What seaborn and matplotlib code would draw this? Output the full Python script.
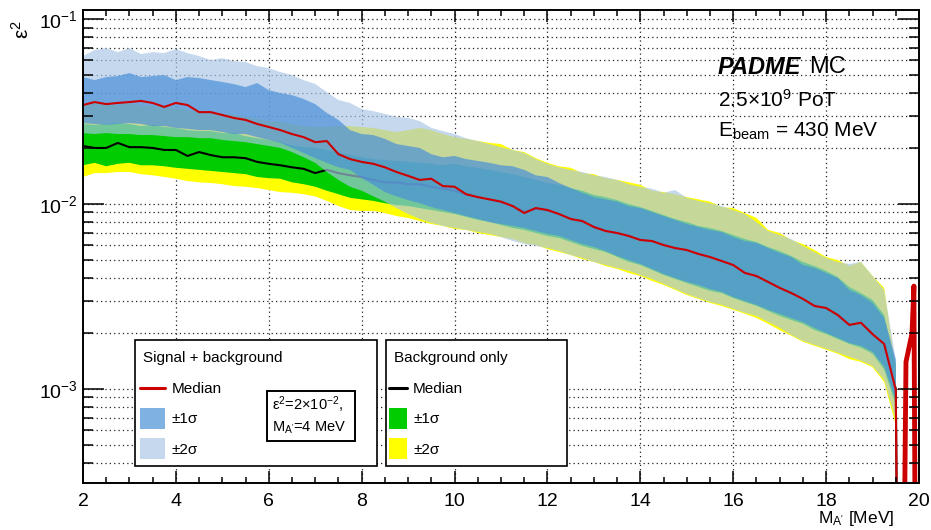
import numpy as np
import pandas as pd
import matplotlib
matplotlib.use("Agg")
import matplotlib.pyplot as plt
import matplotlib.transforms as mtransforms
from matplotlib.patches import Rectangle
from matplotlib.lines import Line2D
from matplotlib.ticker import LogLocator, MultipleLocator, NullFormatter, LogFormatterMathtext
import seaborn as sns

# dark photon mass [MeV]
mass = [2.0, 2.25, 2.5, 2.75, 3.0, 3.25, 3.5, 3.75,
        4.0, 4.25, 4.5, 4.75, 5.0, 5.25, 5.5, 5.75,
        6.0, 6.25, 6.5, 6.75, 7.0, 7.25, 7.5, 7.75,
        8.0, 8.25, 8.5, 8.75, 9.0, 9.25, 9.5, 9.75,
        10.0, 10.25, 10.5, 10.75, 11.0, 11.25, 11.5, 11.75,
        12.0, 12.25, 12.5, 12.75, 13.0, 13.25, 13.5, 13.75,
        14.0, 14.25, 14.5, 14.75, 15.0, 15.25, 15.5, 15.75,
        16.0, 16.25, 16.5, 16.75, 17.0, 17.25, 17.5, 17.75,
        18.0, 18.25, 18.5, 18.75, 19.0, 19.25, 19.5, 19.6]

# signal + background (eps^2 = 2e-2, M_A' = 4 MeV)
sig_median = [0.0343, 0.0356, 0.0347, 0.0352, 0.0356, 0.0361, 0.0352, 0.0335,
              0.0352, 0.0343, 0.0314, 0.0314, 0.0303, 0.0292, 0.0285, 0.0271,
              0.0261, 0.0251, 0.0239, 0.0230, 0.0216, 0.0219, 0.0186, 0.0175,
              0.0169, 0.0165, 0.0158, 0.0149, 0.0142, 0.0135, 0.0137, 0.0125,
              0.0124, 0.0113, 0.0109, 0.0106, 0.0103, 0.00975, 0.00894, 0.00951,
              0.00928, 0.00883, 0.00830, 0.00809, 0.00751, 0.00715, 0.00697, 0.00672,
              0.00639, 0.00631, 0.00600, 0.00578, 0.00564, 0.00537, 0.00517, 0.00492,
              0.00468, 0.00424, 0.00408, 0.00379, 0.00352, 0.00330, 0.00307, 0.00281,
              0.00274, 0.00251, 0.00222, 0.00228, 0.00198, 0.00175, 0.000988, 1e-6]
sig_1s_hi = [0.0486, 0.0468, 0.0486, 0.0492, 0.0511, 0.0486, 0.0492, 0.0498,
             0.0468, 0.0486, 0.0480, 0.0468, 0.0457, 0.0445, 0.0429, 0.0451,
             0.0413, 0.0398, 0.0388, 0.0370, 0.0347, 0.0311, 0.0285, 0.0251,
             0.0239, 0.0236, 0.0225, 0.0211, 0.0206, 0.0201, 0.0186, 0.0179,
             0.0182, 0.0175, 0.0171, 0.0167, 0.0162, 0.0160, 0.0153, 0.0143,
             0.0140, 0.0130, 0.0122, 0.0115, 0.0109, 0.0106, 0.0103, 0.00975,
             0.00951, 0.00905, 0.00861, 0.00820, 0.00780, 0.00751, 0.00724, 0.00706,
             0.00663, 0.00631, 0.00616, 0.00578, 0.00544, 0.00517, 0.00468, 0.00451,
             0.00424, 0.00398, 0.00343, 0.00322, 0.00292, 0.00242, 0.00144, 1e-6]
sig_1s_lo = [0.0274, 0.0271, 0.0268, 0.0271, 0.0274, 0.0271, 0.0264, 0.0264,
             0.0258, 0.0255, 0.0251, 0.0251, 0.0245, 0.0239, 0.0239, 0.0230,
             0.0222, 0.0214, 0.0201, 0.0189, 0.0177, 0.0167, 0.0158, 0.0153,
             0.0138, 0.0127, 0.0116, 0.0110, 0.0105, 0.0101, 0.00963, 0.00928,
             0.00894, 0.00861, 0.00830, 0.00799, 0.00780, 0.00761, 0.00742, 0.00715,
             0.00689, 0.00672, 0.00639, 0.00608, 0.00586, 0.00557, 0.00524, 0.00498,
             0.00474, 0.00446, 0.00419, 0.00398, 0.00379, 0.00365, 0.00347, 0.00335,
             0.00314, 0.00299, 0.00285, 0.00268, 0.00255, 0.00242, 0.00230, 0.00214,
             0.00201, 0.00189, 0.00177, 0.00171, 0.00159, 0.00132, 0.00087, 1e-6]
sig_2s_hi = [0.0631, 0.0680, 0.0697, 0.0663, 0.0697, 0.0647, 0.0663, 0.0655,
             0.0688, 0.0655, 0.0631, 0.0600, 0.0615, 0.0593, 0.0586, 0.0557,
             0.0543, 0.0517, 0.0498, 0.0468, 0.0446, 0.0403, 0.0365, 0.0352,
             0.0326, 0.0318, 0.0307, 0.0296, 0.0292, 0.0281, 0.0258, 0.0248,
             0.0239, 0.0227, 0.0219, 0.0211, 0.0203, 0.0196, 0.0189, 0.0175,
             0.0165, 0.0158, 0.0153, 0.0149, 0.0143, 0.0140, 0.0135, 0.0128,
             0.0124, 0.0121, 0.0115, 0.0119, 0.0108, 0.0104, 0.0101, 0.00975,
             0.00928, 0.00883, 0.00799, 0.00715, 0.00680, 0.00647, 0.00593, 0.00550,
             0.00511, 0.00486, 0.00474, 0.00486, 0.00408, 0.00343, 0.00144, 1e-6]
sig_2s_lo = [0.0242, 0.0239, 0.0242, 0.0239, 0.0239, 0.0236, 0.0236, 0.0233,
             0.0230, 0.0230, 0.0227, 0.0227, 0.0222, 0.0219, 0.0216, 0.0211,
             0.0206, 0.0201, 0.0191, 0.0179, 0.0167, 0.0149, 0.0135, 0.0124,
             0.0118, 0.0110, 0.0103, 0.00951, 0.00883, 0.00830, 0.00790, 0.00761,
             0.00742, 0.00724, 0.00706, 0.00689, 0.00663, 0.00631, 0.00608, 0.00593,
             0.00578, 0.00557, 0.00530, 0.00511, 0.00486, 0.00468, 0.00451, 0.00435,
             0.00413, 0.00393, 0.00370, 0.00347, 0.00326, 0.00310, 0.00295, 0.00285,
             0.00271, 0.00258, 0.00248, 0.00230, 0.00214, 0.00196, 0.00182, 0.00173,
             0.00165, 0.00157, 0.00149, 0.00142, 0.00133, 0.00112, 0.00068, 1e-6]

# background only
bkg_median = [0.0206, 0.0201, 0.0201, 0.0214, 0.0203, 0.0203, 0.0201, 0.0196,
              0.0196, 0.0182, 0.0191, 0.0184, 0.0179, 0.0179, 0.0177, 0.0169,
              0.0165, 0.0162, 0.0158, 0.0155, 0.0147, 0.0153, 0.0147, 0.0143,
              0.0140, 0.0135, 0.0131, 0.0131, 0.0128, 0.0128, 0.0124, 0.0121,
              0.0118, 0.0112, 0.0109, 0.0106, 0.0102, 0.00978, 0.00910, 0.00940,
              0.00921, 0.00880, 0.00835, 0.00805, 0.00755, 0.00718, 0.00695, 0.00670,
              0.00642, 0.00628, 0.00602, 0.00575, 0.00562, 0.00539, 0.00515, 0.00494,
              0.00466, 0.00426, 0.00406, 0.00381, 0.00350, 0.00332, 0.00305, 0.00283,
              0.00272, 0.00253, 0.00220, 0.00229, 0.00196, 0.00176, 0.00100, 1e-6]
bkg_1s_hi = [0.0271, 0.0268, 0.0271, 0.0274, 0.0271, 0.0264, 0.0268, 0.0261,
             0.0258, 0.0251, 0.0248, 0.0248, 0.0242, 0.0242, 0.0233, 0.0227,
             0.0222, 0.0216, 0.0208, 0.0203, 0.0201, 0.0196, 0.0191, 0.0184,
             0.0179, 0.0175, 0.0173, 0.0171, 0.0169, 0.0167, 0.0165, 0.0162,
             0.0165, 0.0160, 0.0157, 0.0153, 0.0149, 0.0145, 0.0140, 0.0135,
             0.0130, 0.0127, 0.0122, 0.0118, 0.0112, 0.0109, 0.0105, 0.0100,
             0.00963, 0.00917, 0.00872, 0.00830, 0.00799, 0.00761, 0.00742, 0.00715,
             0.00680, 0.00647, 0.00623, 0.00586, 0.00557, 0.00524, 0.00486, 0.00462,
             0.00435, 0.00403, 0.00356, 0.00330, 0.00303, 0.00251, 0.00135, 1e-6]
bkg_1s_lo = [0.0162, 0.0167, 0.0160, 0.0165, 0.0167, 0.0162, 0.0162, 0.0160,
             0.0157, 0.0155, 0.0153, 0.0151, 0.0149, 0.0147, 0.0145, 0.0140,
             0.0138, 0.0137, 0.0131, 0.0128, 0.0124, 0.0118, 0.0113, 0.0108,
             0.0106, 0.0104, 0.0101, 0.00988, 0.00975, 0.00951, 0.00928, 0.00905,
             0.00883, 0.00851, 0.00820, 0.00799, 0.00770, 0.00742, 0.00724, 0.00697,
             0.00672, 0.00655, 0.00623, 0.00593, 0.00571, 0.00550, 0.00517, 0.00486,
             0.00468, 0.00440, 0.00413, 0.00393, 0.00374, 0.00356, 0.00339, 0.00330,
             0.00310, 0.00295, 0.00281, 0.00264, 0.00248, 0.00236, 0.00225, 0.00208,
             0.00198, 0.00186, 0.00175, 0.00167, 0.00155, 0.00127, 0.00082, 1e-6]
bkg_2s_hi = [0.0347, 0.0356, 0.0347, 0.0343, 0.0352, 0.0343, 0.0339, 0.0335,
             0.0330, 0.0322, 0.0318, 0.0314, 0.0307, 0.0303, 0.0296, 0.0288,
             0.0281, 0.0278, 0.0271, 0.0264, 0.0261, 0.0261, 0.0264, 0.0264,
             0.0261, 0.0258, 0.0251, 0.0245, 0.0251, 0.0258, 0.0251, 0.0239,
             0.0230, 0.0225, 0.0219, 0.0214, 0.0211, 0.0196, 0.0191, 0.0177,
             0.0167, 0.0160, 0.0157, 0.0147, 0.0145, 0.0138, 0.0135, 0.0131,
             0.0127, 0.0118, 0.0116, 0.0113, 0.0109, 0.0106, 0.0103, 0.00963,
             0.00951, 0.00894, 0.00842, 0.00724, 0.00697, 0.00639, 0.00608, 0.00564,
             0.00517, 0.00498, 0.00462, 0.00486, 0.00408, 0.00352, 0.00127, 1e-6]
bkg_2s_lo = [0.0140, 0.0147, 0.0147, 0.0149, 0.0149, 0.0145, 0.0143, 0.0140,
             0.0137, 0.0133, 0.0131, 0.0130, 0.0128, 0.0125, 0.0124, 0.0122,
             0.0119, 0.0116, 0.0115, 0.0113, 0.0110, 0.0104, 0.00975, 0.00928,
             0.00917, 0.00917, 0.00894, 0.00861, 0.00840, 0.00809, 0.00780, 0.00761,
             0.00733, 0.00724, 0.00697, 0.00680, 0.00663, 0.00647, 0.00616, 0.00600,
             0.00571, 0.00550, 0.00530, 0.00504, 0.00486, 0.00462, 0.00446, 0.00424,
             0.00408, 0.00384, 0.00365, 0.00343, 0.00322, 0.00307, 0.00292, 0.00281,
             0.00268, 0.00255, 0.00242, 0.00225, 0.00208, 0.00194, 0.00180, 0.00171,
             0.00163, 0.00155, 0.00145, 0.00140, 0.00131, 0.00109, 0.00064, 1e-6]

# spike of the signal median at the end of the range
spike_mass = [19.6, 19.72, 19.85, 19.89, 19.96]
spike_median = [1e-6, 0.00140, 0.00200, 0.00360, 1e-6]

df = pd.DataFrame({"mass": mass, "sig_median": sig_median, "bkg_median": bkg_median})

W, H = 931, 530
YELLOW = "#ffff00"
GREEN = "#00cc00"
LIGHT = (169 / 255, 198 / 255, 230 / 255)
BLUE = (74 / 255, 144 / 255, 216 / 255)
RED = "#cc0000"

sns.set_theme(style="ticks")
plt.rcParams["font.family"] = ["Liberation Sans", "DejaVu Sans"]
plt.rcParams["mathtext.fontset"] = "custom"
plt.rcParams["mathtext.rm"] = "Liberation Sans"
plt.rcParams["mathtext.it"] = "Liberation Sans:italic"
plt.rcParams["mathtext.bf"] = "Liberation Sans:bold"

fig = plt.figure(figsize=(W / 100, H / 100), dpi=100)
ax = fig.add_axes([83 / W, 1 - 483 / H, (919 - 83) / W, (483 - 10) / H])
pix = mtransforms.Affine2D().scale(1 / W, -1 / H).translate(0, 1) + fig.transFigure

# bands
ax.fill_between(mass, bkg_2s_lo, bkg_2s_hi, color=YELLOW, lw=0, zorder=1)
ax.fill_between(mass, bkg_1s_lo, bkg_1s_hi, color=GREEN, lw=0, zorder=2)
sns.lineplot(data=df, x="mass", y="bkg_median", color="black", lw=1.5, ax=ax, zorder=3)
ax.fill_between(mass, sig_2s_lo, sig_2s_hi, color=LIGHT, alpha=0.67, lw=0, zorder=4)
ax.fill_between(mass, sig_1s_lo, sig_1s_hi, color=BLUE, alpha=0.7, lw=0, zorder=5)
sns.lineplot(data=df, x="mass", y="sig_median", color=RED, lw=1.5, ax=ax, zorder=6)
sns.lineplot(x=spike_mass, y=spike_median, color=RED, lw=3.5, ax=ax, zorder=6, sort=False)

ax.set_yscale("log")
ax.set_xlim(2, 20)
ax.set_ylim(3.1e-4, 0.112)
ax.set_xlabel("")
ax.set_ylabel("")

# ticks
ax.xaxis.set_major_locator(MultipleLocator(2))
ax.xaxis.set_minor_locator(MultipleLocator(0.5))
ax.yaxis.set_major_locator(LogLocator(base=10))
ax.yaxis.set_minor_locator(LogLocator(base=10, subs=[2, 3, 4, 5, 6, 7, 8, 9]))
ax.yaxis.set_major_formatter(LogFormatterMathtext())
ax.yaxis.set_minor_formatter(NullFormatter())
ax.tick_params(axis="both", which="both", direction="in", top=True, right=True,
               color="black", width=1.1, labelsize=14, labelcolor="black")
ax.tick_params(axis="x", which="major", length=8.5, pad=7)
ax.tick_params(axis="x", which="minor", length=4.3)
ax.tick_params(axis="y", which="major", length=15, pad=4)
ax.tick_params(axis="y", which="minor", length=7.5)
ax.xaxis.set_zorder(10)
ax.yaxis.set_zorder(10)
for sp in ax.spines.values():
    sp.set_linewidth(1.4)
    sp.set_color("black")
    sp.set_zorder(10)

# dotted grid below the bands
grid_kw = dict(color="#222222", ls=(0, (1, 2.5)), lw=0.9, zorder=0.5)
ylo, yhi = ax.get_ylim()
for xv in ax.xaxis.get_majorticklocs():
    if 2 < xv < 20:
        ax.axvline(xv, **grid_kw)
for yv in list(ax.yaxis.get_majorticklocs()) + list(ax.yaxis.get_minorticklocs()):
    if ylo < yv < yhi:
        ax.axhline(yv, **grid_kw)


def ptext(x, y, s, **kw):
    kw.setdefault("va", "center")
    kw.setdefault("color", "black")
    ax.text(x, y, s, transform=pix, zorder=12, clip_on=False, **kw)


def pbox(x, y, w, h, fc="white", ec="black", lw=1.2, alpha=1.0):
    ax.add_patch(Rectangle((x, y), w, h, transform=pix, facecolor=fc, edgecolor=ec,
                           lw=lw, alpha=alpha, zorder=11, clip_on=False))


# axis titles
ptext(22, 30, "ε$^{2}$", fontsize=15, rotation=90, ha="center")
ptext(894, 518, "M$_{\\rm A'}$ [MeV]", fontsize=12.5, ha="right")

# labels top right
ptext(718, 67, "PADME", fontsize=17, fontweight="bold", fontstyle="italic")
ptext(809, 67, "MC", fontsize=17)
ptext(718, 100, "2.5×10$^{9}$ PoT", fontsize=15)
ptext(718, 131, "E$_{\\rm beam}$ = 430 MeV", fontsize=15)

# legend: signal + background
pbox(135, 340, 242, 126)
ptext(143, 358, "Signal + background", fontsize=11)
ax.add_line(Line2D([140, 165], [388, 388], transform=pix, color=RED, lw=2.2, zorder=12, clip_on=False))
ptext(172, 389, "Median", fontsize=11)
pbox(140, 408, 25, 21, fc=BLUE, ec="none", lw=0, alpha=0.7)
ptext(172, 419, "±1σ", fontsize=11)
pbox(140, 438, 25, 21, fc=LIGHT, ec="none", lw=0, alpha=0.67)
ptext(172, 450, "±2σ", fontsize=11)

# legend: background only
pbox(386, 340, 181, 126)
ptext(394, 358, "Background only", fontsize=11)
ax.add_line(Line2D([389, 407], [388, 388], transform=pix, color="black", lw=2.2, zorder=12, clip_on=False))
ptext(413, 389, "Median", fontsize=11)
pbox(389, 408, 18, 21, fc=GREEN, ec="none", lw=0)
ptext(413, 419, "±1σ", fontsize=11)
pbox(389, 438, 18, 21, fc=YELLOW, ec="none", lw=0)
ptext(413, 450, "±2σ", fontsize=11)

# signal hypothesis box
pbox(267, 391, 88, 50, lw=1.4)
ptext(272, 405, "ε$^{2}$=2×10$^{-2}$,", fontsize=10.5)
ptext(272, 428, "M$_{\\rm A'}$=4 MeV", fontsize=10.5)

fig.savefig("out.png", dpi=100)
